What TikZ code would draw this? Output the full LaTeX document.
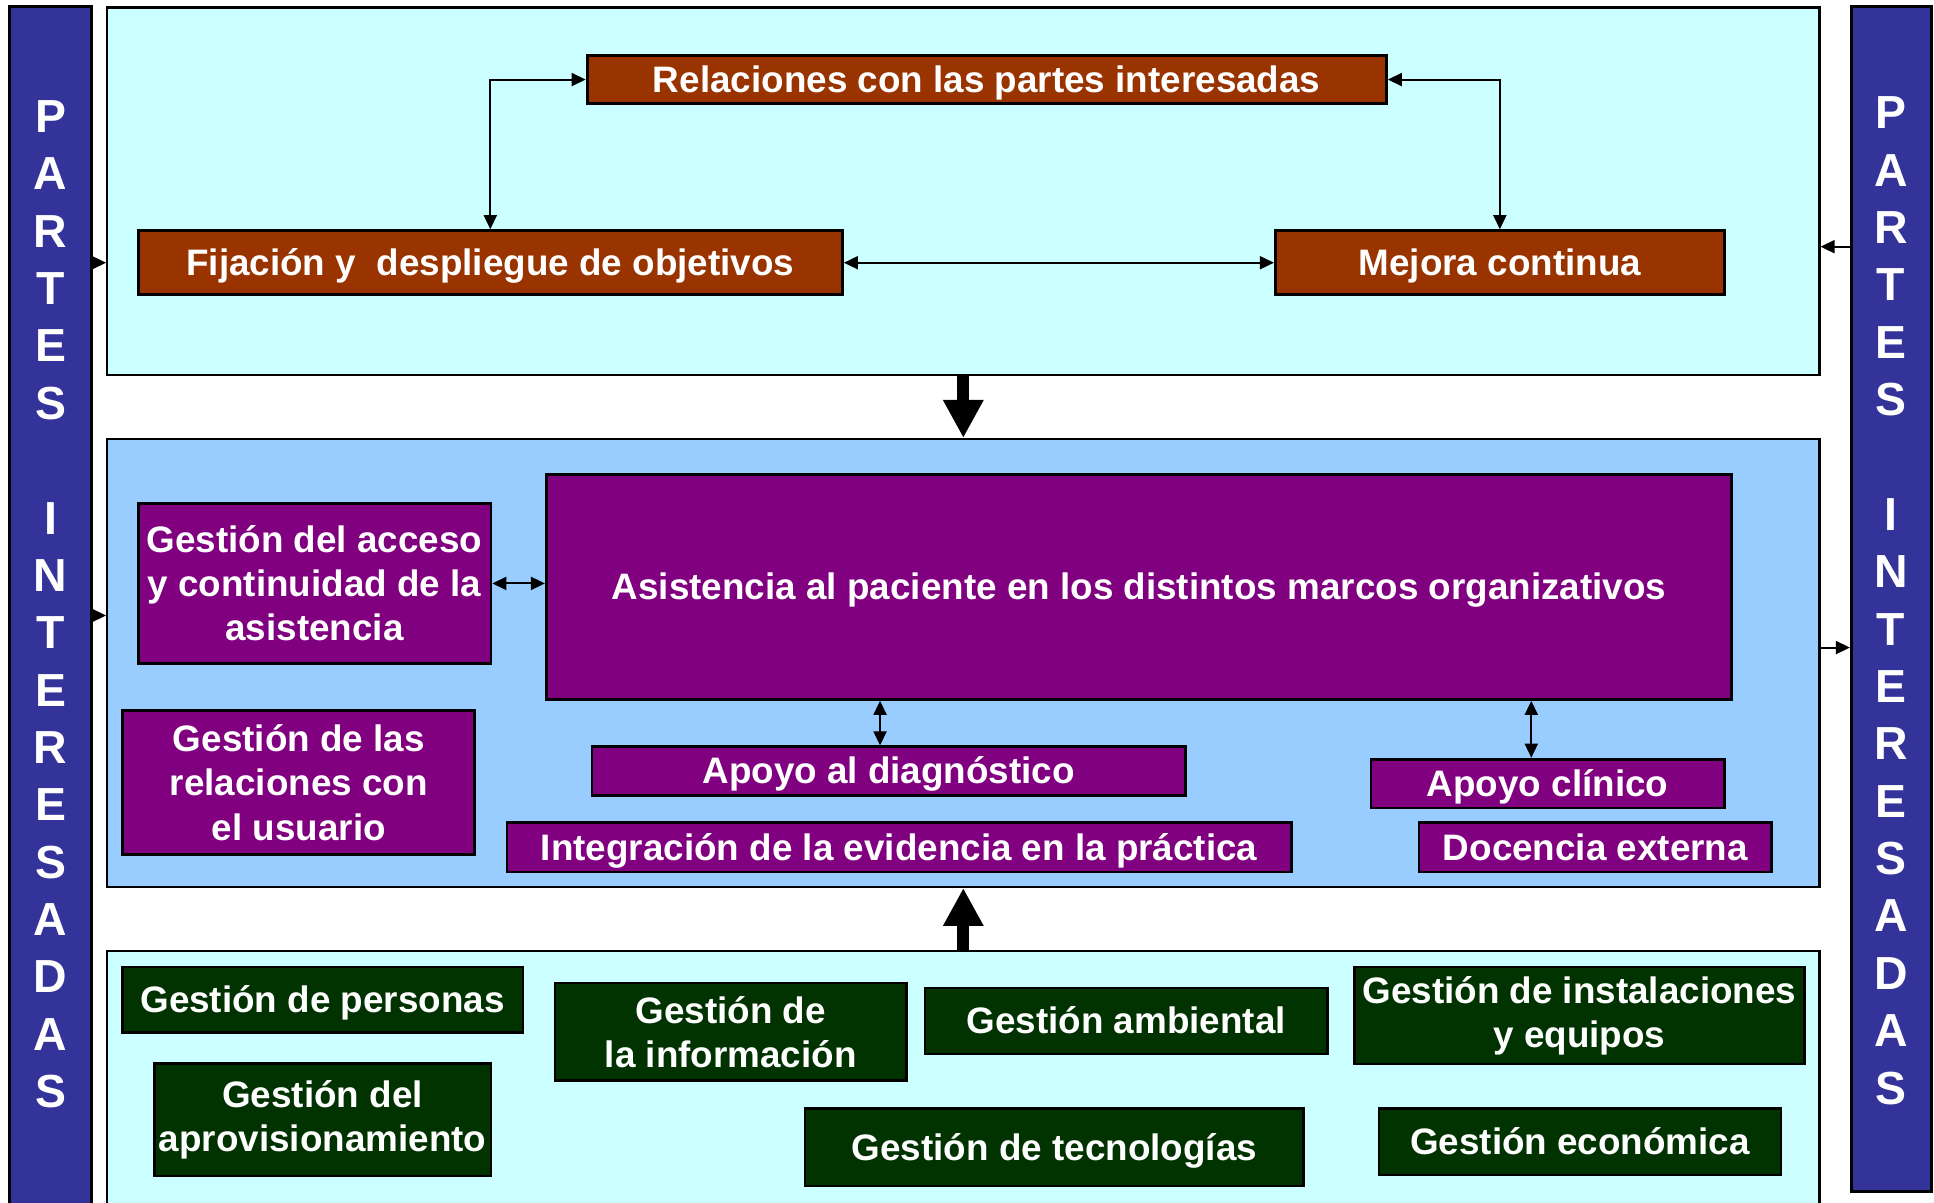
\documentclass[tikz,border=0pt]{standalone}
\usepackage{fontspec}
\setmainfont{Liberation Sans}
\usetikzlibrary{arrows.meta,calc}
\definecolor{navyBar}{HTML}{333399}
\definecolor{paleCyan}{HTML}{CCFFFF}
\definecolor{paleBlue}{HTML}{99CCFF}
\definecolor{brownBox}{HTML}{993300}
\definecolor{purpleBox}{HTML}{800080}
\definecolor{greenBox}{HTML}{003300}
\newcommand\placebox[7]{%
  \pgfmathsetmacro\bw{(#5-#3)*0.02}%
  \pgfmathsetmacro\bh{(#6-#4)*0.02}%
  \node[#1, minimum width=\bw cm, minimum height=\bh cm] (#2) at ({(#3+#5)/2},{(#4+#6)/2}) {#7};}
\begin{document}
\begin{tikzpicture}[x=0.02cm,y=-0.02cm,
  panelbox/.style={draw=black, line width=1.1pt, inner sep=0pt},
  procbox/.style={draw=black, line width=1.3pt, inner sep=0pt, text=white,
    font=\fontsize{17}{20.4}\selectfont\bfseries, align=center},
  oneline/.style={text height=15.4pt, text depth=3.6pt},
  brownbox/.style={procbox, oneline, fill=brownBox},
  purplebox/.style={procbox, fill=purpleBox},
  greenbox/.style={procbox, fill=greenBox},
  sidebar/.style={draw=black, line width=1.3pt, fill=navyBar, inner sep=0pt},
  sideletters/.style={text=white, font=\fontsize{21.4}{26.47}\selectfont\bfseries, align=center, inner sep=0pt},
  conn/.style={line width=0.9pt, -{Triangle[length=6.5pt,width=6pt]}},
  biconn/.style={line width=0.9pt, {Triangle[length=6.5pt,width=6pt]}-{Triangle[length=6.5pt,width=6pt]}},
  bigarrow/.style={line width=5.7pt, -{Triangle[length=17.5pt,width=17.5pt]}},
]
\useasboundingbox (0,0) rectangle (1568,975);

% panels
\placebox{panelbox, fill=paleCyan}{top}{87}{6}{1475}{304}{}
\placebox{panelbox, fill=paleBlue}{mid}{87}{356}{1475}{719}{}
\placebox{panelbox, fill=paleCyan}{bot}{87}{771}{1475}{1000}{}

% side bars
\placebox{sidebar}{lbar}{8}{5}{74}{1000}{}
\placebox{sidebar}{rbar}{1501}{5}{1566}{966}{}
\node[sideletters] (ltext) at (41,490)
  {P\\A\\R\\T\\E\\S\\[26.47pt]I\\N\\T\\E\\R\\E\\S\\A\\D\\A\\S};
\node[sideletters] (rtext) at (1533,487)
  {P\\A\\R\\T\\E\\S\\[26.47pt]I\\N\\T\\E\\R\\E\\S\\A\\D\\A\\S};

% top panel boxes
\placebox{brownbox}{rel}{476}{45}{1124}{84}{Relaciones con las partes interesadas}
\placebox{brownbox}{fij}{112}{187}{683}{239}{Fijación y\ \ despliegue de objetivos}
\placebox{brownbox}{mej}{1034}{187}{1398}{239}{Mejora continua}

\draw[biconn] (fij.north) |- (rel.west);
\draw[biconn] (mej.north) |- (rel.east);
\draw[biconn] (fij.east) -- (mej.west);

% middle panel boxes
\placebox{purplebox}{acc}{112}{408}{398}{538}{Gestión del acceso\\y continuidad de la\\asistencia}
\placebox{purplebox,oneline}{asis}{443}{385}{1404}{567}{Asistencia al paciente en los distintos marcos organizativos}
\placebox{purplebox}{usu}{99.5}{576}{385}{693}{Gestión de las\\relaciones con\\el usuario}
\placebox{purplebox,oneline}{diag}{480}{605.5}{961}{645}{Apoyo al diagnóstico}
\placebox{purplebox,oneline}{integ}{411}{667}{1047}{707}{Integración de la evidencia en la práctica}
\placebox{purplebox,oneline}{clin}{1111.5}{615.5}{1398}{655}{Apoyo clínico}
\placebox{purplebox,oneline}{doc}{1150.5}{667}{1436.5}{707}{Docencia externa}

\coordinate (dx) at (713.5,0);
\coordinate (cx) at (1241.5,0);
\draw[biconn] (acc.east) -- (asis.west |- acc.east);
\draw[biconn] (asis.south -| dx) -- (diag.north -| dx);
\draw[biconn] (asis.south -| cx) -- (clin.north -| cx);

% bottom panel boxes
\placebox{greenbox,oneline}{pers}{99}{784}{424}{837}{Gestión de personas}
\placebox{greenbox}{info}{450}{797}{735}{876}{Gestión de\\la información}
\placebox{greenbox}{aprov}{125}{862}{398}{953.5}{Gestión del\\aprovisionamiento}
\placebox{greenbox,oneline}{amb}{750}{801}{1076}{854.5}{Gestión ambiental}
\placebox{greenbox}{inst}{1098}{784}{1463}{862.6}{Gestión de instalaciones\\y equipos}
\placebox{greenbox,oneline}{tec}{652.6}{899}{1057}{961.6}{Gestión de tecnologías}
\placebox{greenbox,oneline}{eco}{1118}{899}{1444}{952.6}{Gestión económica}

% side connectors
\coordinate (inMid) at (87,499);
\coordinate (inTop) at (1475,200);
\coordinate (outMid) at (1475,525);
\draw[conn] (lbar.east |- fij.west) -- (top.west |- fij.west);
\draw[conn] (lbar.east |- inMid) -- (mid.west |- inMid);
\draw[conn] (rbar.west |- inTop) -- (top.east |- inTop);
\draw[conn] (mid.east |- outMid) -- (rbar.west |- outMid);

% big arrows
\draw[bigarrow] (top.south) -- (mid.north);
\draw[bigarrow] (bot.north) -- (mid.south);
\end{tikzpicture}
\end{document}
